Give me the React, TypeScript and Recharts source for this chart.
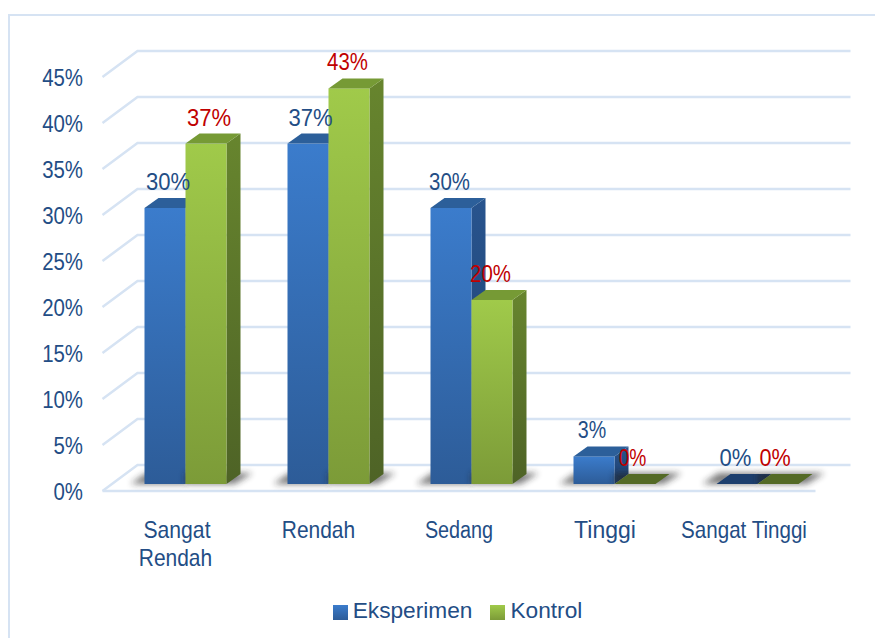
import { BarChart, Bar, XAxis, YAxis, CartesianGrid, Legend, LabelList } from 'recharts';

const categories = ['Sangat Rendah', 'Rendah', 'Sedang', 'Tinggi', 'Sangat Tinggi'];
const eksperimen = [30, 37, 30, 3, 0];
const kontrol = [37, 43, 20, 0, 0];
const yTicks = [0, 5, 10, 15, 20, 25, 30, 35, 40, 45];

const data = categories.map((name, i) => ({ name, Eksperimen: eksperimen[i], Kontrol: kontrol[i] }));

const FONT = '"Liberation Sans", Arial, sans-serif';
const TEXT_BLUE = '#234d85';
const RED = '#c00000';
const GRID = '#d6e3f3';
const DEPTH_X = 14;
const DEPTH_Y = 10;

// the text in the picture is squeezed sideways, so each label gets its own nudge and x scale
const blueLabelStyle = [
  { dx: 3, sx: 0.92 },
  { dx: 2.5, sx: 0.92 },
  { dx: -1.5, sx: 0.85 },
  { dx: -2, sx: 0.82 },
  { dx: -1.5, sx: 0.92 },
];
const redLabelStyle = [
  { dx: 3, sx: 0.92 },
  { dx: -1.5, sx: 0.85 },
  { dx: -1.5, sx: 0.85 },
  { dx: -2.5, sx: 0.8 },
  { dx: -3, sx: 0.9 },
];
const tickStyle: Record<string, { dx: number; sx: number }> = {
  Sangat: { dx: -8, sx: 0.92 },
  Rendah: { dx: -9.5, sx: 0.91 },
  Sedang: { dx: -12, sx: 0.86 },
  Tinggi: { dx: -9, sx: 1 },
  'Sangat Tinggi': { dx: -13, sx: 0.895 },
};

const GridLine = (props: any) => {
  const { x1, x2, y1, index } = props;
  return (
    <polyline
      key={index}
      points={`${x1 - 11},${y1 + 7} ${x1 + 24},${y1 - 19} ${x2 + 22},${y1 - 19}`}
      stroke={GRID}
      strokeWidth={2.5}
      fill="none"
    />
  );
};

const FloorLine = (props: any) => {
  const { x1, x2, y1, index } = props;
  return (
    <g key={index}>
      <GridLine {...props} />
      <line x1={x1 - 11} x2={x2 - 13} y1={y1 + 7} y2={y1 + 7} stroke={GRID} strokeWidth={2.5} />
    </g>
  );
};

const renderGrid = (props: any) => (props.y1 > 470 ? <FloorLine {...props} /> : <GridLine {...props} />);

const Box3D = ({ x, y, width, height, value, kind }: any) => {
  const blue = kind === 'blue';
  const top = value === 0 ? (blue ? '#1d3f6e' : '#546a26') : blue ? '#2c5f9a' : '#769a35';
  const base = y + height;
  const shadow = blue
    ? `${x - 14},${base} ${x + 2},${base - 11} ${x + width},${base - 11} ${x + width},${base}`
    : `${x},${base} ${x},${base - 11} ${x + width + 26},${base - 11} ${x + width + 8},${base}`;
  return (
    <g>
      <polygon points={shadow} fill="#222" opacity={0.6} filter="url(#floorBlur)" />
      <polygon
        points={`${x + width},${y} ${x + width + DEPTH_X},${y - DEPTH_Y} ${x + width + DEPTH_X},${base - DEPTH_Y} ${x + width},${base}`}
        fill={blue ? 'url(#blueSide)' : 'url(#greenSide)'}
      />
      <rect x={x} y={y} width={width} height={height} fill={blue ? 'url(#blueFront)' : 'url(#greenFront)'} />
      <polygon
        points={`${x},${y} ${x + DEPTH_X},${y - DEPTH_Y} ${x + width + DEPTH_X},${y - DEPTH_Y} ${x + width},${y}`}
        fill={top}
      />
    </g>
  );
};

const valueLabel = (color: string, styles: { dx: number; sx: number }[]) => (props: any) => {
  const { x, y, width, value, index } = props;
  const { dx, sx } = styles[index];
  return (
    <text
      transform={`translate(${x + width / 2 + dx},${y - 18}) scale(${sx},1)`}
      textAnchor="middle"
      fontFamily={FONT}
      fontSize={24}
      fill={color}
    >
      {value}%
    </text>
  );
};

const CategoryTick = ({ x, y, payload }: any) => {
  const lines = payload.value === 'Sangat Rendah' ? ['Sangat', 'Rendah'] : [payload.value];
  return (
    <g>
      {lines.map((line: string, i: number) => (
        <text
          key={line}
          transform={`translate(${x + tickStyle[line].dx},${y + 46 + i * 28}) scale(${tickStyle[line].sx},1)`}
          textAnchor="middle"
          fontFamily={FONT}
          fontSize={23}
          fill={TEXT_BLUE}
        >
          {line}
        </text>
      ))}
    </g>
  );
};

const PercentTick = ({ x, y, payload }: any) => (
  <text
    transform={`translate(${x - 22.5},${y + 15.5}) scale(0.85,1)`}
    textAnchor="end"
    fontFamily={FONT}
    fontSize={24}
    fill={TEXT_BLUE}
  >
    {payload.value}%
  </text>
);

export default function App() {
  return (
    <div style={{ position: 'relative', width: 875, height: 630 }}>
      <div
        style={{
          position: 'absolute',
          left: 0,
          top: 6,
          right: 0,
          bottom: 0,
          borderLeft: `2px solid ${GRID}`,
          borderTop: `2px solid ${GRID}`,
        }}
      />
      <BarChart
        width={875}
        height={630}
        data={data}
        margin={{ top: 62, right: 54.5, bottom: 94, left: 0 }}
        barGap={0}
        barSize={41}
      >
        <defs>
          <linearGradient id="blueFront" x1="0" y1="0" x2="0" y2="1">
            <stop offset="0%" stopColor="#3b7ccc" />
            <stop offset="100%" stopColor="#2d5c98" />
          </linearGradient>
          <linearGradient id="greenFront" x1="0" y1="0" x2="0" y2="1">
            <stop offset="0%" stopColor="#a0ca4a" />
            <stop offset="100%" stopColor="#7c9b38" />
          </linearGradient>
          <linearGradient id="blueSide" x1="0" y1="0" x2="0" y2="1">
            <stop offset="0%" stopColor="#28548e" />
            <stop offset="100%" stopColor="#1e3f6c" />
          </linearGradient>
          <linearGradient id="greenSide" x1="0" y1="0" x2="0" y2="1">
            <stop offset="0%" stopColor="#67852e" />
            <stop offset="100%" stopColor="#4e6326" />
          </linearGradient>
          <filter id="floorBlur" x="-30%" y="-100%" width="160%" height="300%">
            <feGaussianBlur stdDeviation="3" />
          </filter>
        </defs>
        <CartesianGrid vertical={false} horizontal={renderGrid} />
        <XAxis dataKey="name" interval={0} height={60} axisLine={false} tickLine={false} tick={<CategoryTick />} />
        <YAxis
          width={105.5}
          domain={[0, 45]}
          ticks={yTicks}
          axisLine={false}
          tickLine={false}
          tick={<PercentTick />}
        />
        <Legend
          layout="horizontal"
          verticalAlign="middle"
          iconType="square"
          iconSize={15}
          wrapperStyle={{ top: 589, left: 21, width: 875, fontFamily: FONT, fontSize: 22.7 }}
          formatter={(value: string) => (
            <span style={{ color: TEXT_BLUE, marginLeft: 1, marginRight: 8 }}>{value}</span>
          )}
        />
        <Bar
          dataKey="Eksperimen"
          fill="url(#blueFront)"
          isAnimationActive={false}
          shape={(p: any) => <Box3D {...p} kind="blue" />}
        >
          <LabelList dataKey="Eksperimen" content={valueLabel(TEXT_BLUE, blueLabelStyle)} />
        </Bar>
        <Bar
          dataKey="Kontrol"
          fill="url(#greenFront)"
          isAnimationActive={false}
          shape={(p: any) => <Box3D {...p} kind="green" />}
        >
          <LabelList dataKey="Kontrol" content={valueLabel(RED, redLabelStyle)} />
        </Bar>
      </BarChart>
    </div>
  );
}
